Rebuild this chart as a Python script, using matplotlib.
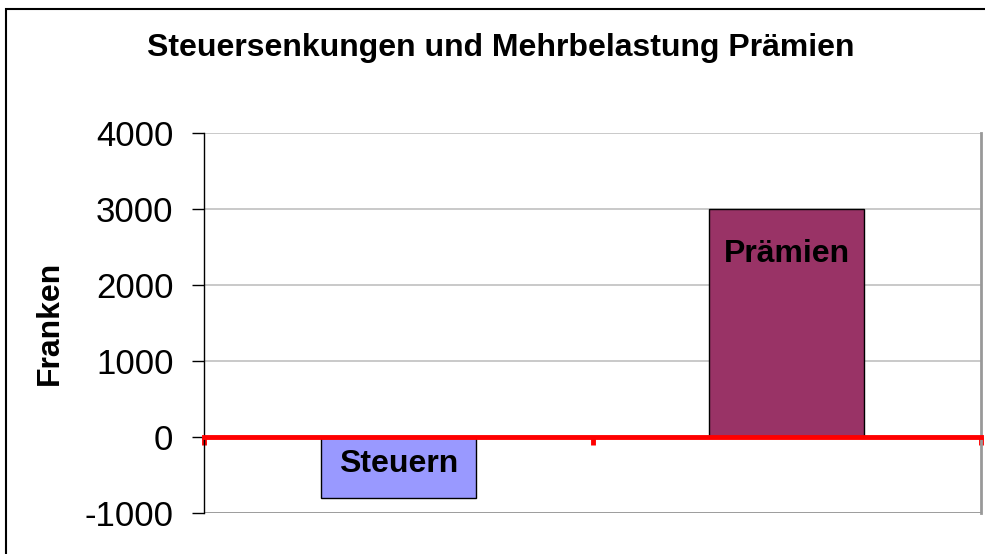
import matplotlib
matplotlib.use("Agg")
import matplotlib.pyplot as plt
from matplotlib.patches import Rectangle

categories = ["Steuern", "Prämien"]
values = [-800, 3000]
colors = ["#9999FF", "#993366"]
yticks = [-1000, 0, 1000, 2000, 3000, 4000]

plt.rcParams['font.family'] = ['Liberation Sans', 'DejaVu Sans']

fig = plt.figure(figsize=(9.85, 5.54), dpi=100)
W, H = 985, 554
ax = fig.add_axes([204 / W, (H - 513) / H, (981 - 204) / W, (513 - 133) / H])

x = list(range(len(categories)))
ax.bar(x, values, width=0.4, color=colors, edgecolor="black", linewidth=1, zorder=3)

ax.set_xlim(-0.5, len(categories) - 0.5)
ax.set_ylim(min(yticks), max(yticks))
ax.set_yticks(yticks)
ax.set_yticklabels([str(v) for v in yticks], fontsize=25)
ax.tick_params(axis='y', direction='out', length=9, width=1, pad=13, color='black')

ax.yaxis.grid(True, color="#C0C0C0", linewidth=1.2, zorder=0)
ax.set_axisbelow(True)

# spines
ax.spines['left'].set_color('black')
ax.spines['left'].set_linewidth(1)
ax.spines['top'].set_visible(False)
ax.spines['right'].set_color('#999999')
ax.spines['right'].set_linewidth(2)
ax.spines['bottom'].set_position(('data', 0))
ax.spines['bottom'].set_color('red')
ax.spines['bottom'].set_linewidth(3.5)
ax.spines['bottom'].set_zorder(4)
ax.axhline(min(yticks), color='#999999', linewidth=2, zorder=1)

ax.set_xticks([i - 0.5 for i in range(len(categories) + 1)])
ax.set_xticklabels([])
ax.tick_params(axis='x', direction='out', length=6, width=3.5, color='red')

# bar labels
for xi, v, lab in zip(x, values, categories):
    if v >= 0:
        ax.annotate(lab, (xi, v), xytext=(0, -38), textcoords='offset points',
                    ha='center', va='baseline', fontsize=23, fontweight='bold', zorder=5)
    else:
        ax.annotate(lab, (xi, 0), xytext=(0, -25), textcoords='offset points',
                    ha='center', va='baseline', fontsize=23, fontweight='bold', zorder=5)

ax.set_ylabel("Franken", fontsize=23, fontweight='bold', va='center')
ax.yaxis.set_label_coords((50 - 204) / (981 - 204), 0.5 - ((323 - 323) / 380))
ax.yaxis.label.set_position(((50 - 204) / (981 - 204), (513 - 323) / 380))

fig.text(0.5 * (140 + 862) / W, 1 - 56 / H, "Steuersenkungen und Mehrbelastung Prämien",
         ha='center', va='baseline', fontsize=23, fontweight='bold')

# figure frame
fig.patches.append(Rectangle((6 / W, -0.1), 1.2, 1.1 - 9 / H,
                             transform=fig.transFigure, fill=False,
                             edgecolor='black', linewidth=1.5))

fig.savefig("out.png", dpi=100)
